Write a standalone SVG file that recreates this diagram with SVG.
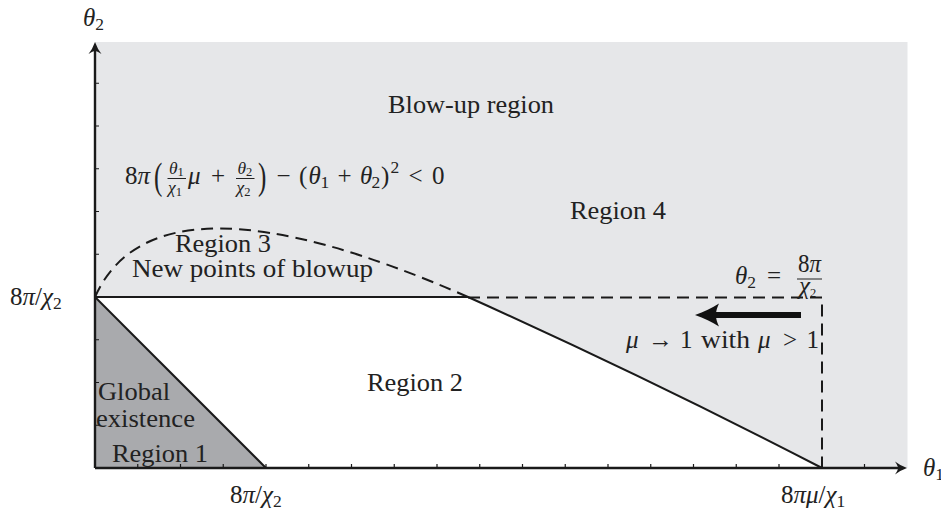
<svg xmlns="http://www.w3.org/2000/svg" width="941" height="512" viewBox="0 0 941 512" font-family="'Liberation Serif', 'DejaVu Serif', serif">
<style>
text{font-family:"Liberation Serif","DejaVu Serif",serif;fill:#222;font-size:25px}
.it{font-style:italic}
.s{font-size:17.5px}
.ss{font-size:12.5px}
.ln{fill:none;stroke:#1a1a1a;stroke-width:2}
.dash{fill:none;stroke:#1a1a1a;stroke-width:2;stroke-dasharray:12 7}
.ax{fill:none;stroke:#1a1a1a;stroke-width:2.4}
.tk{fill:none;stroke:#1a1a1a;stroke-width:1.2}
.bar{stroke:#222;stroke-width:1}
</style>
<g id="regions">
<rect x="95" y="42" width="812.5" height="426" fill="#e6e7e9"/>
<path d="M95,297 L468,297 Q648,378 822,468 L95,468 Z" fill="#ffffff"/>
<path d="M95,297 L95,468 L266,468 Z" fill="#a9aaad"/>
</g>
<g id="curves">
<path class="ln" d="M95,297 L468,297 Q648,378 822,468"/>
<path class="ln" d="M95,297 L266,468"/>
<path class="dash" d="M95,297 Q156,160 468,297"/>
<path class="dash" d="M468,297.5 L822,297.5 L822,468"/>
</g>
<g id="axes">
<path class="tk" d="M95,425.25h4M95,382.5h4M95,339.75h4M95,254.25h4M95,211.5h4M95,168.75h4M95,126h4M95,83.25h4"/>
<path class="tk" d="M137.75,468v-4M180.5,468v-4M223.25,468v-4M266,468v-4M308.75,468v-4M351.5,468v-4M394.25,468v-4M437,468v-4M479.75,468v-4M522.5,468v-4M565.25,468v-4M608,468v-4M650.75,468v-4M693.5,468v-4M736.25,468v-4M779,468v-4M864.5,468v-4"/>
<path class="ax" d="M95,468 L899,468"/>
<path class="ax" d="M95,468 L95,50"/>
<path d="M907,468 Q900,465.5 895,461.5 Q898,466 898,468 Q898,470 895,474.5 Q900,470.5 907,468 Z" fill="#1a1a1a"/>
<path d="M95,42 Q92.5,49 88.5,54 Q93,51 95,51 Q97,51 101.5,54 Q97.5,49 95,42 Z" fill="#1a1a1a"/>
</g>
<g id="bigarrow">
<path d="M712,315 L801,315" stroke="#111" stroke-width="6" fill="none"/>
<path d="M695,315 C704,312 712,308 719,303.5 C716.5,309 716,312 716,315 C716,318 716.5,321 719,326.5 C712,322 704,318 695,315 Z" fill="#111"/>
</g>
<g id="labels">
<text x="83" y="26"><tspan class="it">θ</tspan><tspan class="s" dy="4">2</tspan></text>
<text x="923" y="476"><tspan class="it">θ</tspan><tspan class="s" dy="4">1</tspan></text>
<text x="10" y="305">8<tspan class="it">π</tspan>/<tspan class="it">χ</tspan><tspan class="s" dy="4">2</tspan></text>
<text x="230" y="503">8<tspan class="it">π</tspan>/<tspan class="it">χ</tspan><tspan class="s" dy="4">2</tspan></text>
<text x="781" y="503">8<tspan class="it">πμ</tspan>/<tspan class="it">χ</tspan><tspan class="s" dy="4">1</tspan></text>
<text x="388" y="113" textLength="166" lengthAdjust="spacingAndGlyphs">Blow-up region</text>
<text x="570" y="219" textLength="96" lengthAdjust="spacingAndGlyphs">Region 4</text>
<text x="175" y="252" textLength="96" lengthAdjust="spacingAndGlyphs">Region 3</text>
<text x="132" y="277" textLength="241" lengthAdjust="spacingAndGlyphs">New points of blowup</text>
<text x="367" y="391" textLength="96" lengthAdjust="spacingAndGlyphs">Region 2</text>
<text x="98" y="400" textLength="72" lengthAdjust="spacingAndGlyphs">Global</text>
<text x="96" y="427" textLength="99" lengthAdjust="spacingAndGlyphs">existence</text>
<text x="112" y="462" textLength="96" lengthAdjust="spacingAndGlyphs">Region 1</text>
</g>
<g id="formula">
<text x="125" y="184">8<tspan class="it">π</tspan></text>
<text transform="translate(154,189) scale(1,1.5)" x="0" y="0" font-size="28">(</text>
<text x="169" y="173.5" class="s"><tspan class="it">θ</tspan><tspan class="ss" dy="2.5">1</tspan></text>
<line class="bar" x1="167.5" y1="178.5" x2="186" y2="178.5"/>
<text x="168" y="193" class="s"><tspan class="it">χ</tspan><tspan class="ss" dy="2.5">1</tspan></text>
<text x="188" y="184" class="it">μ</text>
<text x="211" y="184">+</text>
<text x="237.5" y="173.5" class="s"><tspan class="it">θ</tspan><tspan class="ss" dy="2.5">2</tspan></text>
<line class="bar" x1="236" y1="178.5" x2="254.5" y2="178.5"/>
<text x="236.5" y="193" class="s"><tspan class="it">χ</tspan><tspan class="ss" dy="2.5">2</tspan></text>
<text transform="translate(258,189) scale(1,1.5)" x="0" y="0" font-size="28">)</text>
<text x="276.5" y="184">−</text>
<text x="299" y="184">(</text>
<text x="308.5" y="184" class="it">θ</text>
<text x="320.5" y="188" class="s">1</text>
<text x="337.5" y="184">+</text>
<text x="360" y="184" class="it">θ</text>
<text x="371.5" y="188" class="s">2</text>
<text x="381" y="184">)</text>
<text x="390.5" y="173" class="s">2</text>
<text x="408.5" y="184">&lt;</text>
<text x="432" y="184">0</text>
</g>
<g id="annot">
<text x="735" y="284"><tspan class="it">θ</tspan><tspan class="s" dy="4">2</tspan></text>
<text x="767" y="284">=</text>
<text x="798" y="272" font-size="18" textLength="23" lengthAdjust="spacingAndGlyphs">8<tspan class="it">π</tspan></text>
<line class="bar" x1="797" y1="279" x2="822" y2="279"/>
<text x="799" y="294" font-size="18"><tspan class="it">χ</tspan><tspan class="ss" dy="2.5" font-size="13">2</tspan></text>
<text x="626" y="348" class="it">μ</text>
<text x="648" y="348" textLength="25" lengthAdjust="spacingAndGlyphs">→</text>
<text x="680" y="348">1</text>
<text x="701" y="348" textLength="49" lengthAdjust="spacingAndGlyphs">with</text>
<text x="758" y="348" class="it">μ</text>
<text x="783" y="348">&gt;</text>
<text x="806.5" y="348">1</text>
</g>
</svg>
